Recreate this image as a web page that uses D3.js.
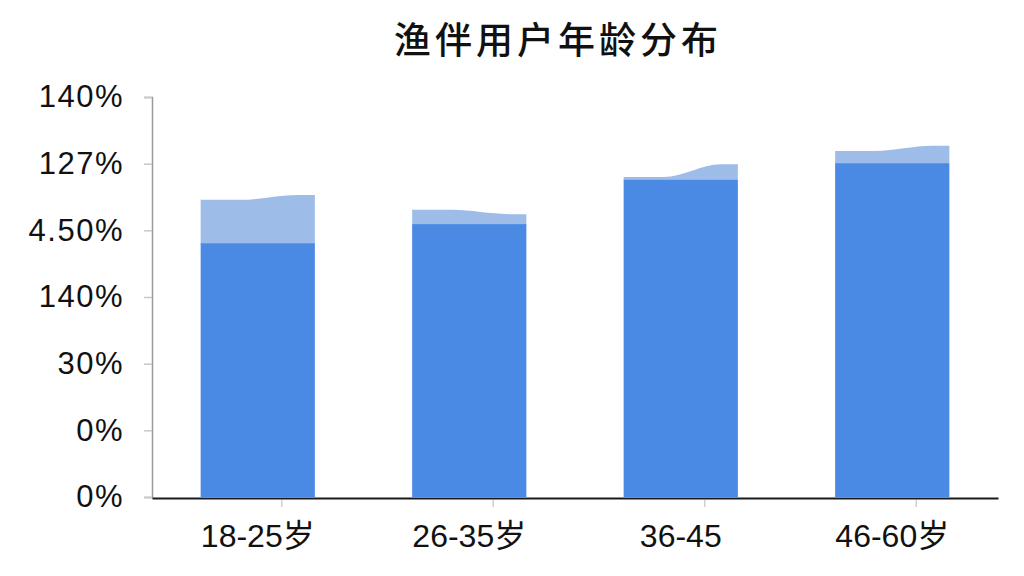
<!DOCTYPE html>
<html>
<head>
<meta charset="utf-8">
<script src="https://cdn.jsdelivr.net/npm/d3@7"></script>
<style>
  html, body { margin: 0; padding: 0; background: #fff; }
  svg { display: block; }
</style>
</head>
<body>
<svg id="chart" width="1024" height="576"></svg>
<script>
// chart data
const categories = ["18-25岁", "26-35岁", "36-45", "46-60岁"];
const baseValues = [88.8, 95.5, 111.0, 116.8];   // solid part
const capStart = [104.0, 100.5, 112.0, 121.1];   // light cap, left edge
const capEnd = [105.7, 99.0, 116.5, 122.9];      // light cap, right edge
const tickLabels = ["0%", "0%", "30%", "140%", "4.50%", "127%", "140%"]; // bottom to top
const yMax = 140;

const title = "渔伴用户年龄分布";

// layout
const margin = { left: 152, right: 26, top: 97, bottom: 79 };
const W = 1024, H = 576;
const baseY = H - margin.bottom;

const svg = d3.select("#chart");

const x = d3.scaleBand()
    .domain(categories)
    .range([margin.left, W - margin.right])
    .paddingInner(0.46)
    .paddingOuter(0.23);

const y = d3.scaleLinear()
    .domain([0, yMax])
    .range([baseY, margin.top]);

const tickVals = tickLabels.map((d, i) => i * yMax / (tickLabels.length - 1));

// title
svg.append("text")
    .attr("x", 558)
    .attr("y", 54)
    .attr("text-anchor", "middle")
    .style("font-family", "'Noto Sans CJK SC', sans-serif")
    .style("font-size", "37px")
    .style("font-weight", 500)
    .style("letter-spacing", "4px")
    .attr("fill", "#111")
    .text(title);

// y axis
const yAxis = d3.axisLeft(y)
    .tickValues(tickVals)
    .tickFormat((d, i) => tickLabels[i])
    .tickSize(8)
    .tickPadding(20);

const gy = svg.append("g")
    .attr("transform", `translate(${margin.left},0)`)
    .call(yAxis);
gy.select(".domain").attr("stroke", "#9a9a9a").attr("stroke-width", 1.5);
gy.selectAll(".tick line").attr("stroke", "#c8c8c8").attr("stroke-width", 1.5);
gy.selectAll(".tick text")
    .attr("fill", "#111")
    .style("font-family", "'Liberation Sans', 'Noto Sans CJK SC', sans-serif")
    .style("font-size", "31px")
    .style("letter-spacing", "1.5px");

// light caps with wavy top
const capArea = d3.area()
    .x(d => d[0])
    .y0(d => d[2])
    .y1(d => d[1])
    .curve(d3.curveMonotoneX);

const fracs = [0, 0.35, 0.85, 1];

svg.append("g").selectAll("path")
    .data(categories)
    .join("path")
    .attr("fill", "#9dbde8")
    .attr("d", (c, i) => {
        const x0 = x(c), bw = x.bandwidth();
        const pts = fracs.map((f, k) => [
            x0 + f * bw,
            y(k < 2 ? capStart[i] : capEnd[i]),
            y(baseValues[i]) + 1
        ]);
        return capArea(pts);
    });

// solid bars
svg.append("g").selectAll("rect")
    .data(categories)
    .join("rect")
    .attr("x", c => x(c))
    .attr("width", x.bandwidth())
    .attr("y", (c, i) => y(baseValues[i]))
    .attr("height", (c, i) => baseY - y(baseValues[i]))
    .attr("fill", "#4a8ae4");

// x axis
const xAxis = d3.axisBottom(x).tickSize(0).tickPadding(26);
const gx = svg.append("g")
    .attr("transform", `translate(0,${baseY + 1})`)
    .call(xAxis);
gx.select(".domain").attr("stroke", "#1a1a1a").attr("stroke-width", 2);
gx.selectAll(".tick text")
    .attr("fill", "#111")
    .style("font-family", "'Liberation Sans', 'Noto Sans CJK SC', sans-serif")
    .style("font-size", "32px");

// small tick marks under the axis, slightly right of each bar centre
gx.selectAll(".tick").append("line")
    .attr("x1", 24).attr("x2", 24)
    .attr("y1", 2).attr("y2", 9)
    .attr("stroke", "#d0d0d0")
    .attr("stroke-width", 1.5);
</script>
</body>
</html>
